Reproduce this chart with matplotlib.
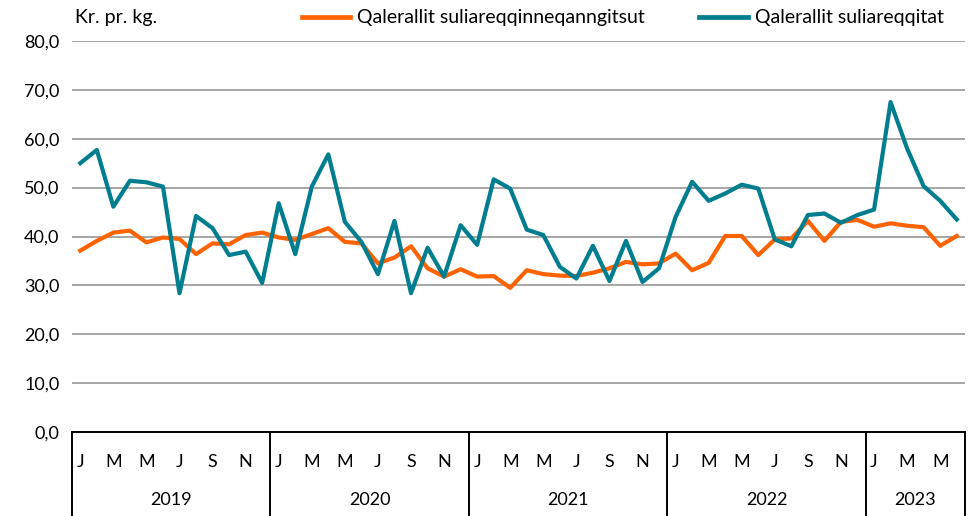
import matplotlib

matplotlib.use("Agg")
import matplotlib.pyplot as plt
import matplotlib.transforms as mtransforms

plt.rcParams["font.family"] = ["Lato", "DejaVu Sans"]

# Monthly prices, Jan 2019 - Jun 2023 (kr. pr. kg.)
years = ["2019", "2020", "2021", "2022", "2023"]
months_per_year = [12, 12, 12, 12, 6]
month_letters = ["J", "F", "M", "A", "M", "J", "J", "A", "S", "O", "N", "D"]

unprocessed = [
    37.1, 39.1, 40.8, 41.2, 38.8, 39.8, 39.5, 36.4, 38.6, 38.4, 40.3, 40.8,
    39.8, 39.3, 40.5, 41.7, 38.9, 38.6, 34.5, 35.7, 38.0, 33.5, 31.8, 33.3,
    31.8, 31.9, 29.5, 33.1, 32.3, 32.0, 31.9, 32.6, 33.5, 34.8, 34.3, 34.5,
    36.5, 33.1, 34.6, 40.1, 40.1, 36.2, 39.4, 39.6, 43.2, 39.1, 43.0, 43.4,
    42.0, 42.7, 42.2, 41.9, 38.1, 40.1,
]
processed = [
    55.0, 57.7, 46.1, 51.4, 51.1, 50.2, 28.4, 44.2, 41.7, 36.2, 36.9, 30.5,
    46.8, 36.4, 50.2, 56.8, 43.0, 38.9, 32.3, 43.2, 28.4, 37.7, 31.8, 42.3,
    38.3, 51.7, 49.8, 41.4, 40.3, 33.8, 31.4, 38.1, 30.9, 39.1, 30.7, 33.5,
    44.0, 51.2, 47.3, 48.8, 50.6, 49.8, 39.4, 38.0, 44.4, 44.7, 42.8, 44.4,
    45.5, 67.5, 58.0, 50.3, 47.3, 43.5,
]
labels = ["Qalerallit suliareqqinneqanngitsut", "Qalerallit suliareqqitat"]

ORANGE = "#FF6200"
TEAL = "#007D8F"

fig = plt.figure(figsize=(9.76, 5.16), dpi=100)
ax = fig.add_axes([72 / 976, 1 - 432 / 516, (965 - 72) / 976, (432 - 41) / 516])

x = list(range(len(processed)))
ax.plot(x, unprocessed, color=ORANGE, lw=3.0, label=labels[0])
ax.plot(x, processed, color=TEAL, lw=3.0, label=labels[1])

ax.set_xlim(-0.5, len(x) - 0.5)
ax.set_ylim(0, 80)
yt = list(range(0, 81, 10))
ax.set_yticks(yt)
ax.set_yticklabels([f"{v:.1f}".replace(".", ",") for v in yt], fontsize=13)
ax.tick_params(axis="y", length=0, pad=9)
ax.set_xticks([])
ax.grid(True, axis="y", color="#A6A6A6", lw=1.4)
ax.set_axisbelow(True)
for s in ("left", "right", "top"):
    ax.spines[s].set_visible(False)
ax.spines["bottom"].set_color("black")
ax.spines["bottom"].set_linewidth(1.4)

# two-level category axis: month letters and years
trans = mtransforms.blended_transform_factory(ax.transData, ax.transAxes)
start = 0
bounds = [-0.5]
for year, n in zip(years, months_per_year):
    for m in range(0, n, 2):
        ax.text(start + m, -0.077, month_letters[m], transform=trans,
                ha="center", va="center", fontsize=13)
    ax.text(start + (n - 1) / 2, -0.174, year, transform=trans,
            ha="center", va="center", fontsize=13)
    start += n
    bounds.append(start - 0.5)
for b in bounds:
    ax.plot([b, b], [0, -0.215], transform=trans, color="black", lw=1.4,
            clip_on=False)

fig.text(75 / 976, 1 - 18 / 516, "Kr. pr. kg.", fontsize=14, ha="left", va="center")

leg = fig.legend(loc="center left", bbox_to_anchor=(294 / 976, 1 - 18 / 516),
                 ncol=2, frameon=False, fontsize=14, handlelength=2.5,
                 handletextpad=0.35, columnspacing=2.8, borderaxespad=0)
for line in leg.get_lines():
    line.set_linewidth(3.4)

fig.savefig("out.png", dpi=100)
